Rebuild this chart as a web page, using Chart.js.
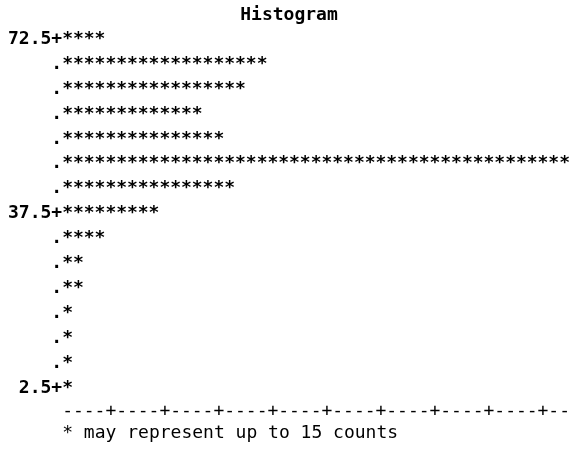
<!DOCTYPE html>
<html>
<head>
<meta charset="utf-8">
<script src="https://cdn.jsdelivr.net/npm/chart.js@4/dist/chart.umd.min.js"></script>
<style>
    html, body { margin: 0; padding: 0; background: #fff; }
</style>
</head>
<body>
<canvas id="histChart" width="570" height="450"></canvas>
<script>
// bin midpoints, top to bottom
const binMids = ['72.5', '67.5', '62.5', '57.5', '52.5', '47.5', '42.5', '37.5', '32.5', '27.5', '22.5', '17.5', '12.5', '7.5', '2.5'];
// number of '*' per bin (one * = up to 15 counts)
const starCounts = [4, 19, 17, 13, 15, 50, 16, 9, 4, 2, 2, 1, 1, 1, 1];
// bins that get a printed tick label
const labeledBins = ['72.5', '37.5', '2.5'];
const footnote = '* may represent up to 15 counts';

const mono = '"DejaVu Sans Mono", monospace';
const axisCols = 47;   // columns visible right of the axis

// draws each bar as a row of asterisks, one per unit on the x scale
const starBars = {
    id: 'starBars',
    afterDatasetsDraw(chart) {
        const ctx = chart.ctx;
        const xs = chart.scales.x;
        const meta = chart.getDatasetMeta(0);
        const vals = chart.data.datasets[0].data;
        ctx.save();
        ctx.font = 'bold 18px ' + mono;
        ctx.fillStyle = '#000';
        ctx.textAlign = 'center';
        ctx.textBaseline = 'middle';
        meta.data.forEach((bar, i) => {
            for (let k = 0; k < vals[i]; k++) {
                ctx.fillText('*', xs.getPixelForValue(k + 0.5), bar.y);
            }
        });
        ctx.restore();
    }
};

new Chart(document.getElementById('histChart'), {
    type: 'bar',
    data: {
        labels: binMids,
        datasets: [{
            data: starCounts,
            backgroundColor: 'rgba(0,0,0,0)',
            borderWidth: 0
        }]
    },
    options: {
        indexAxis: 'y',
        responsive: false,
        animation: false,
        layout: { padding: { left: 8, right: 0, top: 0, bottom: 6 } },
        plugins: {
            legend: { display: false },
            tooltip: { enabled: false },
            title: {
                display: true,
                text: 'Histogram',
                color: '#000',
                font: { family: mono, size: 18, weight: 'bold', lineHeight: 1.2 },
                padding: { top: 5, bottom: 0 }
            }
        },
        scales: {
            x: {
                type: 'linear',
                min: 0,
                max: axisCols,
                grid: { display: false, drawTicks: false },
                border: { display: false },
                afterBuildTicks(scale) {
                    const t = [];
                    for (let k = 0; k < axisCols; k++) t.push({ value: k + 0.5 });
                    scale.ticks = t;
                },
                ticks: {
                    autoSkip: false,
                    maxRotation: 0,
                    minRotation: 0,
                    padding: 0,
                    color: '#000',
                    font: { family: mono, size: 18, lineHeight: 1.2 },
                    callback: (v) => (Math.round(v - 0.5) + 1) % 5 === 0 ? '+' : '-'
                },
                title: {
                    display: true,
                    text: footnote,
                    align: 'start',
                    color: '#000',
                    font: { family: mono, size: 18, lineHeight: 1.2 },
                    padding: { top: 0, bottom: 0 }
                }
            },
            y: {
                type: 'category',
                grid: { display: false, drawTicks: false },
                border: { display: false },
                ticks: {
                    padding: 0,
                    color: '#000',
                    font: { family: mono, size: 18, weight: 'bold', lineHeight: 1.2 },
                    callback: function (v) {
                        const lab = this.getLabelForValue(v);
                        return labeledBins.includes(lab) ? lab + '+' : '.';
                    }
                }
            }
        }
    },
    plugins: [starBars]
});
</script>
</body>
</html>
